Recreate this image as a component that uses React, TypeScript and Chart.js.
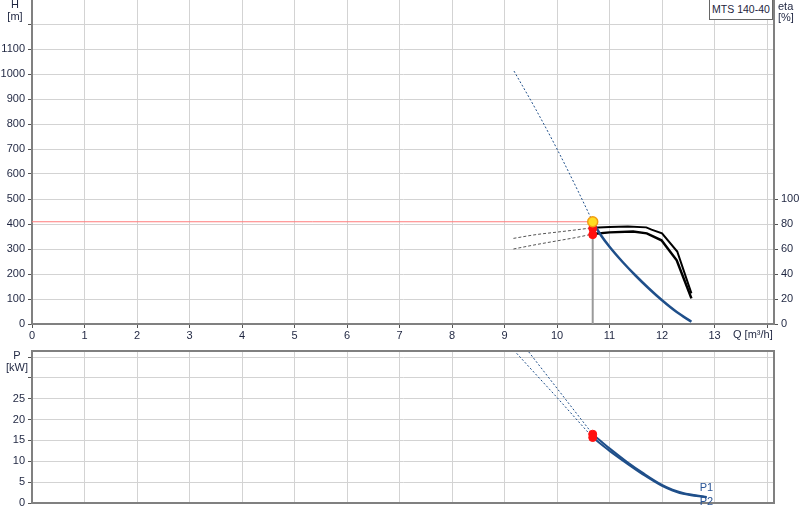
import React, { useEffect, useRef } from 'react';
import { Chart, registerables } from 'chart.js';

Chart.register(...registerables);

Chart.defaults.font.family = '"Liberation Sans", Arial, sans-serif';
Chart.defaults.font.size = 11;
Chart.defaults.color = '#1e2540';

// duty point
const opFlow = 10.68;
const opHead = 409;
const opEta = [76.5, 71.5];
const opPower = [16.5, 15.7];

// H curve (m)
const headFlow = [10.68, 10.82, 11.0, 11.25, 11.5, 11.75, 12.0, 12.28, 12.56];
const headValues = [409, 360, 309, 248, 193, 142, 95, 48, 9];
const headExtFlow = [9.18, 9.6, 10.0, 10.4, 10.68];
const headExtValues = [1012, 857, 700, 532, 409];

// efficiency curves (%)
const etaFlow1 = [10.68, 11.0, 11.35, 11.7, 11.8, 12.0, 12.29, 12.56];
const etaValues1 = [77, 77.6, 78, 77.3, 75.5, 72.5, 58, 24.5];
const etaFlow2 = [10.68, 11.0, 11.45, 11.71, 11.99, 12.28, 12.56];
const etaValues2 = [72, 73.3, 74, 72.5, 67, 51, 20.5];
const etaExtFlow = [9.17, 9.6, 10.0, 10.4, 10.68];
const etaExtValues1 = [68.5, 71.5, 73.5, 75.5, 77];
const etaExtValues2 = [60, 63.5, 66.5, 69.5, 72];

// power curves (kW)
const powerFlow = [10.68, 11.0, 11.33, 11.65, 12.0, 12.2, 12.4, 12.85];
const powerValues1 = [16.5, 13.1, 9.9, 7.1, 4.35, 3.2, 2.4, 1.45];
const powerValues2 = [15.7, 12.5, 9.5, 6.75, 4.1, 3.0, 2.2, 1.35];
const powerExtFlow = [9.18, 10.0, 10.68];
const powerExtValues1 = [40.8, 27.5, 16.5];
const powerExtValues2 = [36.6, 25.3, 15.7];

// axis ticks
const flowTicks = [0, 1, 2, 3, 4, 5, 6, 7, 8, 9, 10, 11, 12, 13, 14];
const headTicks = [0, 100, 200, 300, 400, 500, 600, 700, 800, 900, 1000, 1100, 1200];
const etaTicks = [0, 20, 40, 60, 80, 100];
const powerTicks = [0, 5, 10, 15, 20, 25, 30, 35];

const flowMax = 14.133;
const headMax = 1296;
const etaMax = headMax / 5;
const powerMax = 36.45;

const pts = (xs: number[], ys: number[]) => xs.map((x, i) => ({ x, y: ys[i] }));

const BLUE = '#1f4f8a';
const GRID = '#d3d3d3';
const AXIS = '#808080';
const TICK = '#555555';

// keep the plot area exactly where the axes say, no label overhang padding
const noPad = (s: any) => {
    s.paddingTop = 0;
    s.paddingBottom = 0;
    s.paddingLeft = 0;
    s.paddingRight = 0;
};

const frame = {
    id: 'frame',
    afterDraw(chart: any) {
        const { ctx, chartArea: a } = chart;
        ctx.save();
        ctx.strokeStyle = AXIS;
        ctx.lineWidth = 2;
        ctx.beginPath();
        ctx.moveTo(a.left, a.top);
        ctx.lineTo(a.right, a.top);
        ctx.lineTo(a.right, a.bottom);
        ctx.stroke();
        ctx.restore();
    },
};

const powerLabels = {
    id: 'powerLabels',
    afterDatasetsDraw(chart: any) {
        const { ctx, scales } = chart;
        const last = powerFlow.length - 1;
        const x = scales.x.getPixelForValue(powerFlow[last]) - 7;
        ctx.save();
        ctx.font = '11px "Liberation Sans", Arial, sans-serif';
        ctx.fillStyle = '#2a5596';
        ctx.textBaseline = 'middle';
        ctx.fillText('P1', x, scales.y.getPixelForValue(powerValues1[last]) - 9);
        ctx.fillText('P2', x, scales.y.getPixelForValue(powerValues2[last]) + 5);
        ctx.restore();
    },
};

const line = (data: any, color: string, width: number, extra: any = {}) => ({
    data,
    borderColor: color,
    backgroundColor: color,
    borderWidth: width,
    showLine: true,
    pointRadius: 0,
    ...extra,
});

const App: React.FC = () => {
    const topRef = useRef<HTMLCanvasElement>(null);
    const botRef = useRef<HTMLCanvasElement>(null);

    useEffect(() => {
        if (!topRef.current || !botRef.current) return;

        const top = new Chart(topRef.current, {
            type: 'scatter',
            data: {
                datasets: [
                    {
                        data: [{ x: opFlow, y: opHead }],
                        pointRadius: 5,
                        pointBackgroundColor: '#ffdd22',
                        pointBorderColor: '#f39c12',
                        pointBorderWidth: 1.5,
                    },
                    {
                        data: pts([opFlow, opFlow], opEta),
                        yAxisID: 'yEta',
                        pointRadius: 4,
                        pointBackgroundColor: '#ff1010',
                        pointBorderColor: '#ff1010',
                    },
                    line(pts(headFlow, headValues), BLUE, 2.5, { cubicInterpolationMode: 'monotone' }),
                    line(pts(headExtFlow, headExtValues), BLUE, 1, { borderDash: [2, 2], cubicInterpolationMode: 'monotone' }),
                    line(pts(etaFlow1, etaValues1), '#000000', 2, { yAxisID: 'yEta' }),
                    line(pts(etaFlow2, etaValues2), '#000000', 2.5, { yAxisID: 'yEta' }),
                    line(pts(etaExtFlow, etaExtValues1), '#555555', 1, { yAxisID: 'yEta', borderDash: [3, 2], cubicInterpolationMode: 'monotone' }),
                    line(pts(etaExtFlow, etaExtValues2), '#555555', 1, { yAxisID: 'yEta', borderDash: [3, 2], cubicInterpolationMode: 'monotone' }),
                    line(pts([0, opFlow], [opHead, opHead]), '#ff7b7b', 1),
                    line(pts([opFlow, opFlow], [0, 370]), '#9a9a9a', 2),
                ],
            },
            options: {
                animation: false,
                responsive: true,
                maintainAspectRatio: false,
                layout: { padding: 0, autoPadding: false },
                plugins: { legend: { display: false }, tooltip: { enabled: false } },
                scales: {
                    x: {
                        type: 'linear',
                        min: 0,
                        max: flowMax,
                        afterBuildTicks: (s: any) => { s.ticks = flowTicks.map(v => ({ value: v })); },
                        afterFit: (s: any) => { s.height = 21; noPad(s); },
                        ticks: { callback: (v: any) => (v <= 13 ? String(v) : ''), padding: 1, maxRotation: 0 },
                        grid: { color: GRID, tickLength: 4, tickColor: TICK },
                        border: { color: AXIS, width: 2 },
                    },
                    y: {
                        position: 'left',
                        min: 0,
                        max: headMax,
                        afterBuildTicks: (s: any) => { s.ticks = headTicks.map(v => ({ value: v })); },
                        afterFit: (s: any) => { s.width = 32; noPad(s); },
                        ticks: { callback: (v: any) => (v <= 1100 ? String(v) : ''), padding: 3 },
                        grid: { color: GRID, tickLength: 4, tickColor: TICK },
                        border: { color: AXIS, width: 2 },
                    },
                    yEta: {
                        position: 'right',
                        min: 0,
                        max: etaMax,
                        afterBuildTicks: (s: any) => { s.ticks = etaTicks.map(v => ({ value: v })); },
                        afterFit: (s: any) => { s.width = 26; noPad(s); },
                        ticks: { padding: 3 },
                        grid: { drawOnChartArea: false, tickLength: 4, tickColor: TICK },
                        border: { color: AXIS, width: 2 },
                    },
                },
            },
        });

        const bottom = new Chart(botRef.current, {
            type: 'scatter',
            data: {
                datasets: [
                    {
                        data: pts([opFlow, opFlow], opPower),
                        pointRadius: 4,
                        pointBackgroundColor: '#ff1010',
                        pointBorderColor: '#ff1010',
                    },
                    line(pts(powerFlow, powerValues1), BLUE, 2, { cubicInterpolationMode: 'monotone' }),
                    line(pts(powerFlow, powerValues2), BLUE, 2, { cubicInterpolationMode: 'monotone' }),
                    line(pts(powerExtFlow, powerExtValues1), BLUE, 1, { borderDash: [2, 2] }),
                    line(pts(powerExtFlow, powerExtValues2), BLUE, 1, { borderDash: [2, 2] }),
                ],
            },
            options: {
                animation: false,
                responsive: true,
                maintainAspectRatio: false,
                layout: { padding: { top: 6, right: 26, left: 0, bottom: 0 }, autoPadding: false },
                plugins: { legend: { display: false }, tooltip: { enabled: false } },
                scales: {
                    x: {
                        type: 'linear',
                        min: 0,
                        max: flowMax,
                        afterBuildTicks: (s: any) => { s.ticks = flowTicks.map(v => ({ value: v })); },
                        afterFit: (s: any) => { s.height = 17; noPad(s); },
                        ticks: { display: false },
                        grid: { color: GRID, drawTicks: false },
                        border: { color: AXIS, width: 2 },
                    },
                    y: {
                        min: 0,
                        max: powerMax,
                        afterBuildTicks: (s: any) => { s.ticks = powerTicks.map(v => ({ value: v })); },
                        afterFit: (s: any) => { s.width = 32; noPad(s); },
                        ticks: { callback: (v: any) => (v <= 25 ? String(v) : ''), padding: 3 },
                        grid: { color: GRID, tickLength: 4, tickColor: TICK },
                        border: { color: AXIS, width: 2 },
                    },
                },
            },
            plugins: [frame, powerLabels],
        });

        return () => {
            top.destroy();
            bottom.destroy();
        };
    }, []);

    const txt: React.CSSProperties = { position: 'absolute', fontSize: 11, color: '#1e2540', lineHeight: '12px', whiteSpace: 'nowrap' };

    return (
        <div style={{ position: 'absolute', left: 0, top: 0, width: 800, height: 520, background: '#ffffff', fontFamily: '"Liberation Sans", Arial, sans-serif', overflow: 'hidden' }}>
            <div style={{ position: 'absolute', left: 0, top: 0, width: 800, height: 345 }}>
                <canvas ref={topRef}></canvas>
            </div>
            <div style={{ position: 'absolute', left: 0, top: 345, width: 800, height: 175 }}>
                <canvas ref={botRef}></canvas>
            </div>

            {/* unit labels */}
            <div style={{ ...txt, left: 4, width: 22, textAlign: 'center', top: -2 }}>H</div>
            <div style={{ ...txt, left: 4, width: 22, textAlign: 'center', top: 10 }}>[m]</div>
            <div style={{ ...txt, left: 778, top: 0 }}>eta</div>
            <div style={{ ...txt, left: 778, top: 11 }}>[%]</div>
            <div style={{ ...txt, left: 733, top: 328 }}>Q [m³/h]</div>
            <div style={{ ...txt, left: 4, width: 26, textAlign: 'center', top: 349 }}>P</div>
            <div style={{ ...txt, left: 4, width: 26, textAlign: 'center', top: 361 }}>[kW]</div>

            {/* pump name box */}
            <div style={{ ...txt, left: 709, top: -1, width: 62, height: 19, fontSize: 10.5, border: '1px solid #666', background: '#fff', textAlign: 'center', lineHeight: '19px' }}>MTS 140-40</div>
        </div>
    );
};

export default App;
